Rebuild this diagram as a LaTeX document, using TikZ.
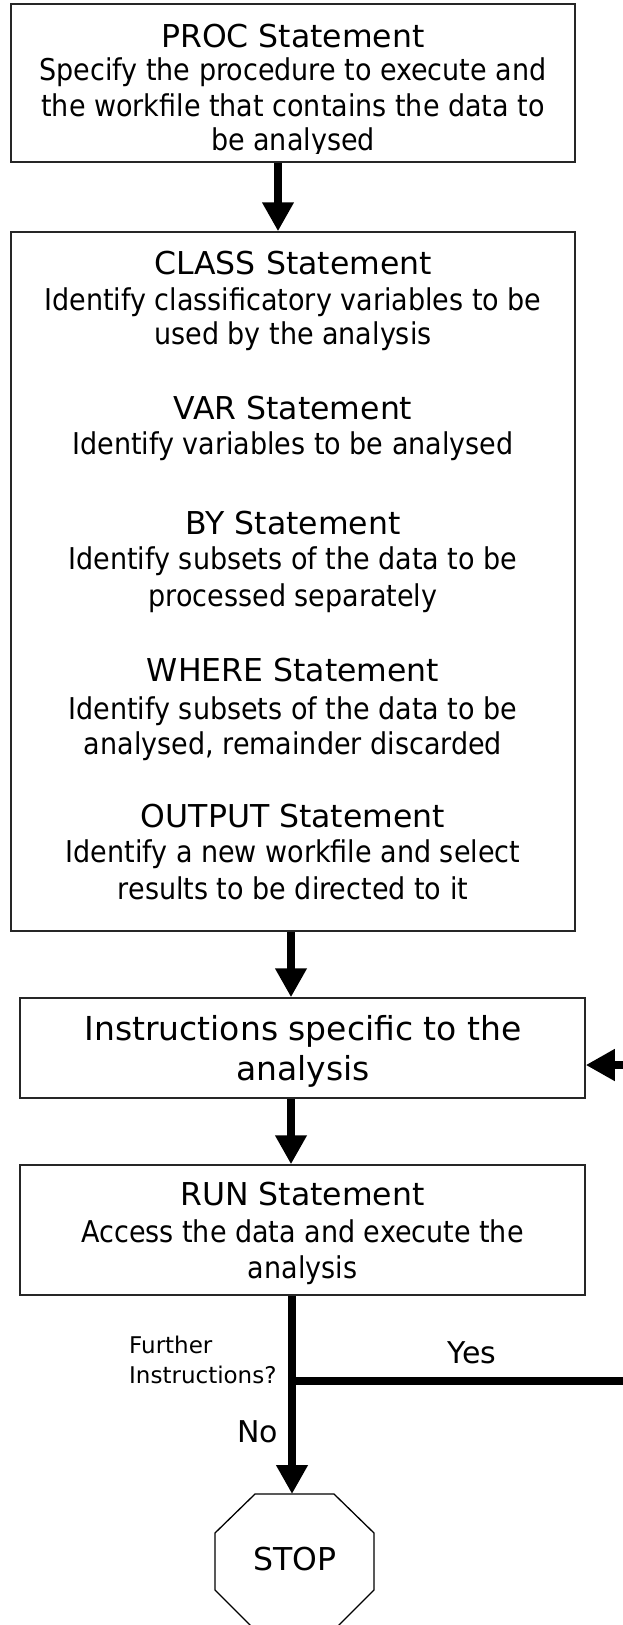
\documentclass[tikz,border=0pt]{standalone}
\usepackage{fontspec}
\setmainfont{DejaVu Sans}
\newfontfamily\condfont{DejaVu Sans Condensed}
\usetikzlibrary{arrows.meta,calc}

\tikzset{
  box/.style={draw=black!85, line width=1.5pt, fill=white, inner sep=0pt},
  ttl/.style={anchor=base, inner sep=0pt, font=\fontsize{31.5}{36}\selectfont},
  txt/.style={anchor=base, inner sep=0pt, font=\condfont\fontsize{30}{35}\selectfont},
  big/.style={anchor=base, inner sep=0pt, font=\fontsize{33}{40}\selectfont},
  small/.style={anchor=base west, inner sep=0pt, font=\fontsize{23}{27}\selectfont},
  lbl/.style={anchor=base, inner sep=0pt, font=\fontsize{30}{36}\selectfont},
  flow/.style={line width=8.5pt, -{Triangle[length=29pt,width=30pt]}},
  octo/.style={draw=black, line width=1.3pt},
}

\begin{document}
\begin{tikzpicture}[x=1pt,y=-1pt]
\useasboundingbox (0,0) rectangle (623,1625);
\clip (0,0) rectangle (623,1625);
\fill[white] (0,0) rectangle (623,1625);

% boxes
\node[box, minimum width=564pt, minimum height=158pt] (proc) at (293,83) {};
\node[box, minimum width=564pt, minimum height=699pt] (cls) at (293,581.5) {};
\node[box, minimum width=565pt, minimum height=100pt] (instr) at (302.5,1048) {};
\node[box, minimum width=565pt, minimum height=130pt] (run) at (302.5,1230) {};

% box 1 text (last line's descender is cut off in the original)
\begin{scope}
\clip (11,5) rectangle (575,153);
\node[ttl] (t1) at (293,47) {PROC Statement};
\node[txt] (t1a) at (293,80) {Specify the procedure to execute and};
\node[txt] (t1b) at (293,116) {the workfile that contains the data to};
\node[txt] (t1c) at (293,150) {be analysed};
\end{scope}

% box 2 text
\node[ttl] (t2) at (293,274) {CLASS Statement};
\node[txt] (t2a) at (293,310) {Identify classificatory variables to be};
\node[txt] (t2b) at (293,344) {used by the analysis};
\node[ttl] (t3) at (293,419) {VAR Statement};
\node[txt] (t3a) at (293,454) {Identify variables to be analysed};
\node[ttl] (t4) at (293,534) {BY Statement};
\node[txt] (t4a) at (293,569) {Identify subsets of the data to be};
\node[txt] (t4b) at (293,606) {processed separately};
\node[ttl] (t5) at (293,681) {WHERE Statement};
\node[txt] (t5a) at (293,719) {Identify subsets of the data to be};
\node[txt] (t5b) at (293,754) {analysed, remainder discarded};
\node[ttl] (t6) at (293,827) {OUTPUT Statement};
\node[txt] (t6a) at (293,862) {Identify a new workfile and select};
\node[txt] (t6b) at (293,899) {results to be directed to it};

% box 3 text
\node[big] (t7) at (303,1040) {Instructions specific to the};
\node[big] (t7a) at (303,1080) {analysis};

% box 4 text
\node[ttl] (t8) at (302.5,1205) {RUN Statement};
\node[txt] (t8a) at (302.5,1242) {Access the data and execute the};
\node[txt] (t8b) at (302.5,1278) {analysis};

% decision labels
\node[small] (q1) at (129,1353) {Further};
\node[small] (q2) at (129,1383) {Instructions?};
\node[lbl] (yes) at (472,1363) {Yes};
\node[lbl] (no) at (257.5,1442) {No};

% stop octagon
\draw[octo] (255,1494) -- (334,1494) -- (374,1533) -- (374,1590) -- (334,1630)
  -- (255,1630) -- (215,1590) -- (215,1533) -- cycle;
\coordinate (stoptop) at (292,1494);
\node[lbl, font=\fontsize{31.5}{36}\selectfont] (stop) at (295,1570) {STOP};

% connector helpers
\coordinate (ax1) at (278,0);
\coordinate (ax2) at (291,0);
\coordinate (ax3) at (292,0);
\coordinate (jn) at (292,1381);
\coordinate (loopx) at (645,0);

% connectors
\draw[flow] (proc.south -| ax1) -- (cls.north -| ax1);
\draw[flow] (cls.south -| ax2) -- (instr.north -| ax2);
\draw[flow] (instr.south -| ax2) -- (run.north -| ax2);
\draw[flow] (run.south -| ax3) -- (stoptop);
\draw[flow] (jn) -- (jn -| loopx) -- ($(instr.east -| loopx)+(0,17)$) -- ($(instr.east)+(0,17)$);
\end{tikzpicture}
\end{document}
